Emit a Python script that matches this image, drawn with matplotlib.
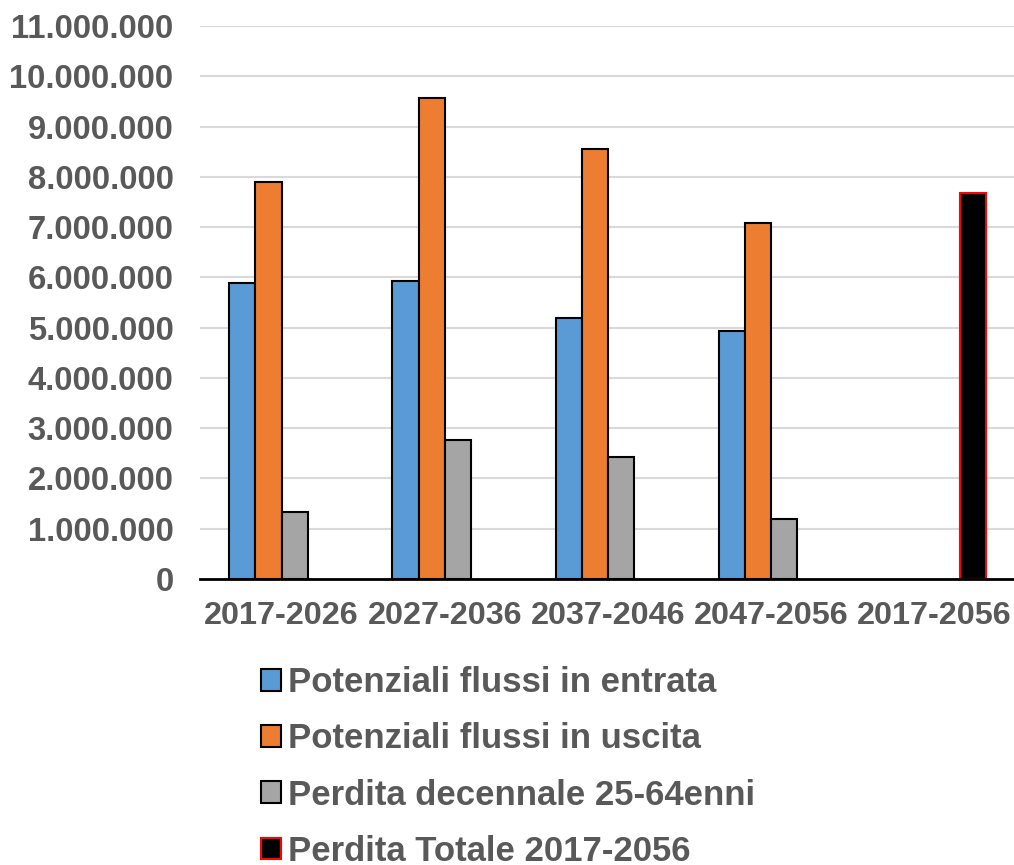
import matplotlib
matplotlib.use("Agg")
import numpy as np
import matplotlib.pyplot as plt
from matplotlib.ticker import FuncFormatter, MultipleLocator
from matplotlib.patches import Patch

# data
periods = ["2017-2026", "2027-2036", "2037-2046", "2047-2056", "2017-2056"]
entrata = [5890000, 5930000, 5190000, 4930000, np.nan]
uscita = [7900000, 9560000, 8550000, 7080000, np.nan]
perdita = [1330000, 2760000, 2430000, 1190000, np.nan]
totale = [np.nan, np.nan, np.nan, np.nan, 7680000]
labels = ["Potenziali flussi in entrata", "Potenziali flussi in uscita",
          "Perdita decennale 25-64enni", "Perdita Totale 2017-2056"]

plt.rcParams["font.family"] = ["Liberation Sans", "DejaVu Sans"]
plt.rcParams["font.weight"] = "bold"
txtcol = "#595959"

fig = plt.figure(figsize=(10.14, 8.65), dpi=100)
ax = fig.add_axes([200 / 1014, 1 - 579 / 865, 814 / 1014, (579 - 26) / 865])

x = np.arange(len(periods))
w = 0.16
series = [entrata, uscita, perdita, totale]
fills = ["#5B9BD5", "#ED7D31", "#A5A5A5", "#000000"]
edges = ["black", "black", "black", "#FF0000"]
for i, (vals, fc, ec) in enumerate(zip(series, fills, edges)):
    ax.bar(x + (i - 1.5) * w, vals, w, color=fc, edgecolor=ec, linewidth=1.5, zorder=3)

# configure
ax.set_xlim(-0.5, 4.49)
ax.set_ylim(0, 11000000)
ax.yaxis.set_major_locator(MultipleLocator(1000000))
ax.yaxis.set_major_formatter(FuncFormatter(lambda v, p: f"{int(v):,}".replace(",", ".")))
ax.set_xticks(x)
ax.set_xticklabels(periods)
ax.grid(axis="y", color="#D9D9D9", linewidth=1.5, zorder=0)
for s in ["top", "right", "left"]:
    ax.spines[s].set_visible(False)
ax.spines["bottom"].set_color("black")
ax.spines["bottom"].set_linewidth(2)
ax.spines["bottom"].set_zorder(4)
ax.tick_params(axis="y", length=0, pad=19, labelsize=23.6, labelcolor=txtcol)
ax.tick_params(axis="x", length=0, pad=16, labelsize=23.3, labelcolor=txtcol)

handles = [Patch(facecolor=fc, edgecolor=ec, linewidth=1.5) for fc, ec in zip(fills, edges)]
leg = fig.legend(handles, labels, loc="upper left", bbox_to_anchor=(261 / 1014, 1 - 666 / 865),
                 frameon=False, fontsize=25, handlelength=0.58, handleheight=0.58,
                 handletextpad=0.2, labelspacing=0.67, borderpad=0, borderaxespad=0)
for t in leg.get_texts():
    t.set_color(txtcol)

fig.savefig("out.png", dpi=100)
